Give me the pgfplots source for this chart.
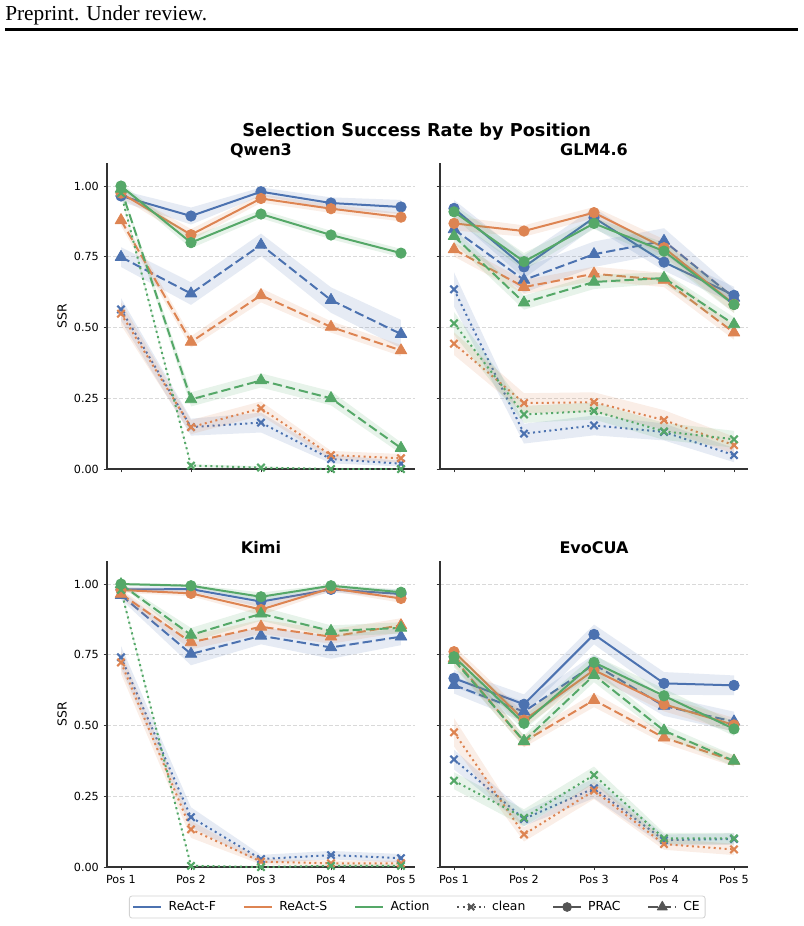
\documentclass[border=0pt]{standalone}
\usepackage{pgfplots}
\pgfplotsset{compat=1.18}
\usepackage{pgfplotstable}
\usepackage{fontspec}
\setmainfont{DejaVu Sans}
\newfontfamily\hdrfont{Liberation Serif}
\definecolor{cF}{HTML}{4C72B0}
\definecolor{cS}{HTML}{DD8452}
\definecolor{cA}{HTML}{55A868}
\definecolor{cG}{HTML}{555555}

% F = ReAct-F, S = ReAct-S, A = Action; P = PRAC, C = CE, k = clean; e = band half-width
\pgfplotstableread{
x FP eFP SP eSP AP eAP FC eFC SC eSC AC eAC Fk eFk Sk eSk Ak eAk
0 0.965 0.020 0.975 0.015 1.000 0.010 0.749 0.035 0.879 0.020 0.990 0.010 0.564 0.040 0.549 0.040 0.975 0.010
1 0.894 0.030 0.828 0.020 0.800 0.020 0.620 0.040 0.449 0.020 0.246 0.025 0.148 0.030 0.148 0.025 0.012 0.005
2 0.980 0.015 0.956 0.015 0.901 0.015 0.792 0.040 0.614 0.025 0.313 0.025 0.164 0.035 0.214 0.025 0.005 0.005
3 0.940 0.020 0.920 0.015 0.827 0.015 0.597 0.045 0.502 0.020 0.250 0.025 0.035 0.015 0.049 0.015 0.000 0.000
4 0.926 0.025 0.890 0.015 0.763 0.015 0.477 0.050 0.419 0.020 0.074 0.020 0.019 0.010 0.038 0.015 0.000 0.000
}\qwen
\pgfplotstableread{
x FP eFP SP eSP AP eAP FC eFC SC eSC AC eAC Fk eFk Sk eSk Ak eAk
0 0.921 0.030 0.868 0.025 0.909 0.025 0.847 0.035 0.776 0.025 0.823 0.025 0.635 0.060 0.443 0.040 0.515 0.040
1 0.714 0.040 0.841 0.020 0.733 0.030 0.668 0.045 0.643 0.025 0.588 0.025 0.125 0.035 0.233 0.035 0.193 0.030
2 0.888 0.035 0.906 0.020 0.868 0.020 0.759 0.045 0.690 0.025 0.661 0.025 0.154 0.035 0.236 0.035 0.205 0.030
3 0.731 0.030 0.782 0.030 0.770 0.030 0.806 0.045 0.668 0.025 0.675 0.020 0.131 0.030 0.173 0.035 0.133 0.030
4 0.614 0.030 0.582 0.030 0.581 0.030 0.605 0.030 0.482 0.025 0.511 0.025 0.049 0.025 0.084 0.030 0.105 0.030
}\glm
\pgfplotstableread{
x FP eFP SP eSP AP eAP FC eFC SC eSC AC eAC Fk eFk Sk eSk Ak eAk
0 0.981 0.010 0.979 0.010 1.000 0.005 0.961 0.015 0.965 0.015 0.999 0.005 0.741 0.040 0.723 0.040 0.979 0.010
1 0.982 0.010 0.967 0.010 0.994 0.005 0.753 0.040 0.794 0.025 0.820 0.025 0.176 0.035 0.133 0.030 0.004 0.005
2 0.938 0.020 0.910 0.020 0.955 0.015 0.817 0.030 0.849 0.025 0.895 0.025 0.028 0.015 0.019 0.010 0.000 0.000
3 0.981 0.010 0.985 0.010 0.994 0.005 0.776 0.040 0.814 0.025 0.834 0.020 0.042 0.015 0.013 0.010 0.004 0.005
4 0.965 0.015 0.949 0.015 0.971 0.010 0.814 0.030 0.854 0.025 0.845 0.020 0.031 0.015 0.013 0.010 0.004 0.005
}\kimi
\pgfplotstableread{
x FP eFP SP eSP AP eAP FC eFC SC eSC AC eAC Fk eFk Sk eSk Ak eAk
0 0.667 0.030 0.761 0.020 0.743 0.020 0.643 0.030 0.737 0.025 0.731 0.025 0.380 0.035 0.476 0.050 0.305 0.030
1 0.575 0.035 0.519 0.025 0.508 0.025 0.549 0.035 0.443 0.020 0.445 0.020 0.170 0.025 0.115 0.025 0.174 0.030
2 0.822 0.035 0.696 0.025 0.723 0.025 0.716 0.035 0.590 0.025 0.678 0.025 0.278 0.035 0.270 0.030 0.325 0.030
3 0.649 0.040 0.575 0.025 0.605 0.025 0.569 0.035 0.457 0.020 0.482 0.020 0.095 0.020 0.081 0.020 0.101 0.020
4 0.642 0.035 0.502 0.025 0.488 0.025 0.514 0.035 0.375 0.020 0.375 0.020 0.099 0.020 0.062 0.020 0.101 0.020
}\evo

\pgfplotsset{
  prac/.style={solid, line width=1.5pt, mark=*, mark size=3.9pt, mark options={solid, line width=0.6pt}},
  ce/.style={dash pattern=on 7pt off 3pt, line width=1.5pt, mark=triangle*, mark size=5pt, mark options={solid, line width=0.6pt}},
  clean/.style={dash pattern=on 1.5pt off 2.6pt, line width=1.5pt, mark=x, mark size=3.9pt, mark options={solid, line width=1.6pt}},
  panel/.style={
    scale only axis, width=231pt, height=229.2pt,
    xmin=-0.2, xmax=4.2, ymin=0, ymax=1.08,
    axis x line*=bottom, axis y line*=left,
    axis line style={-, draw=black!80, line width=0.8pt},
    xtick={0,1,2,3,4}, ytick={0,0.25,0.5,0.75,1},
    tick align=outside, major tick length=2.6pt,
    tick style={draw=black!80, line width=0.6pt},
    ymajorgrids, grid style={dash pattern=on 3pt off 1.5pt, draw=gray!30, line width=0.5pt},
    ticklabel style={font=\fontsize{8.4}{10}\selectfont},
    /pgf/number format/assume math mode=true,
    yticklabel style={/pgf/number format/fixed, /pgf/number format/fixed zerofill, /pgf/number format/precision=2},
    title style={at={(0.5,1)}, anchor=base, yshift=0pt, font=\bfseries\fontsize{12}{14}\selectfont},
    ylabel style={at={(axis description cs:-0.146,0.5)}, anchor=center, font=\fontsize{9.3}{11}\selectfont},
    every axis plot/.append style={line join=round},
  }
}

% shaded band: polygon through (x, y+e) forward and (x, y-e) backward, read from the table
\newcommand{\band}[3]{%
  \gdef\bandpts{}%
  \foreach \r in {0,1,2,3,4}{%
    \pgfplotstablegetelem{\r}{#2}\of{#1}\let\yv\pgfplotsretval
    \pgfplotstablegetelem{\r}{e#2}\of{#1}\let\ev\pgfplotsretval
    \pgfmathsetmacro\yy{\yv+\ev}%
    \xdef\bandpts{\bandpts (\r,\yy)}%
  }%
  \foreach \r in {4,3,2,1,0}{%
    \pgfplotstablegetelem{\r}{#2}\of{#1}\let\yv\pgfplotsretval
    \pgfplotstablegetelem{\r}{e#2}\of{#1}\let\ev\pgfplotsretval
    \pgfmathsetmacro\yy{\yv-\ev}%
    \xdef\bandpts{\bandpts (\r,\yy)}%
  }%
  \edef\tmp{\noexpand\addplot[fill=#3, fill opacity=0.14, draw=none, no marks, forget plot] coordinates {\bandpts};}%
  \tmp
}
\newcommand{\ser}[4]{%
  \band{#1}{#2}{#3}%
  \addplot[#3, #4, forget plot] table[x=x, y=#2]{#1};
}
\newcommand{\allseries}[1]{%
  \ser{#1}{Fk}{cF}{clean}\ser{#1}{FC}{cF}{ce}\ser{#1}{FP}{cF}{prac}%
  \ser{#1}{Sk}{cS}{clean}\ser{#1}{SC}{cS}{ce}\ser{#1}{SP}{cS}{prac}%
  \ser{#1}{Ak}{cA}{clean}\ser{#1}{AC}{cA}{ce}\ser{#1}{AP}{cA}{prac}%
}

\begin{document}
\begin{tikzpicture}
\path (0,0) rectangle (603pt,-694.5pt);
\node[anchor=base west, inner sep=0, font=\hdrfont\fontsize{16}{19}\selectfont] at (3.75pt,-15pt) {Preprint. Under review.};
\draw[line width=2.25pt] (3.75pt,-22.4pt) -- (598.5pt,-22.4pt);
\node[anchor=base, inner sep=0, font=\bfseries\fontsize{13.3}{16}\selectfont] at (312.5pt,-102.5pt) {Selection Success Rate by Position};

\begin{axis}[panel, at={(80.25pt,-351.75pt)}, anchor=south west, title={Qwen3}, ylabel={SSR}, xticklabels={,,,,}]
\allseries{\qwen}
\end{axis}

\begin{axis}[panel, at={(330pt,-351.75pt)}, anchor=south west, title={GLM4.6}, xticklabels={,,,,}, yticklabels={,,,,}]
\allseries{\glm}
\end{axis}

\begin{axis}[panel, at={(80.25pt,-650.25pt)}, anchor=south west, title={Kimi}, ylabel={SSR},
  xticklabels={Pos 1,Pos 2,Pos 3,Pos 4,Pos 5},
  legend columns=6, legend cell align=left,
  legend style={at={(axis description cs:0.0714,-0.1309)}, anchor=west, draw=gray!35, rounded corners=2pt, line width=0.6pt,
    font=\fontsize{9.3}{11}\selectfont, inner sep=2pt,
    /tikz/every odd column/.append style={column sep=2.5pt},
    /tikz/every even column/.append style={column sep=18pt}},
  legend image code/.code={\draw[mark repeat=2, mark phase=2, #1] plot coordinates {(0pt,0pt) (10.5pt,0pt) (21pt,0pt)};}]
\allseries{\kimi}
\addlegendimage{cF, solid, line width=2pt}\addlegendentry{ReAct-F}
\addlegendimage{cS, solid, line width=2pt}\addlegendentry{ReAct-S}
\addlegendimage{cA, solid, line width=2pt}\addlegendentry{Action}
\addlegendimage{cG, clean, mark size=3.3pt}\addlegendentry{clean}
\addlegendimage{cG, prac, mark size=3.3pt}\addlegendentry{PRAC}
\addlegendimage{cG, ce, mark size=4.3pt}\addlegendentry{CE}
\end{axis}

\begin{axis}[panel, at={(330pt,-650.25pt)}, anchor=south west, title={EvoCUA},
  xticklabels={Pos 1,Pos 2,Pos 3,Pos 4,Pos 5}, yticklabels={,,,,}]
\allseries{\evo}
\end{axis}
\end{tikzpicture}
\end{document}
